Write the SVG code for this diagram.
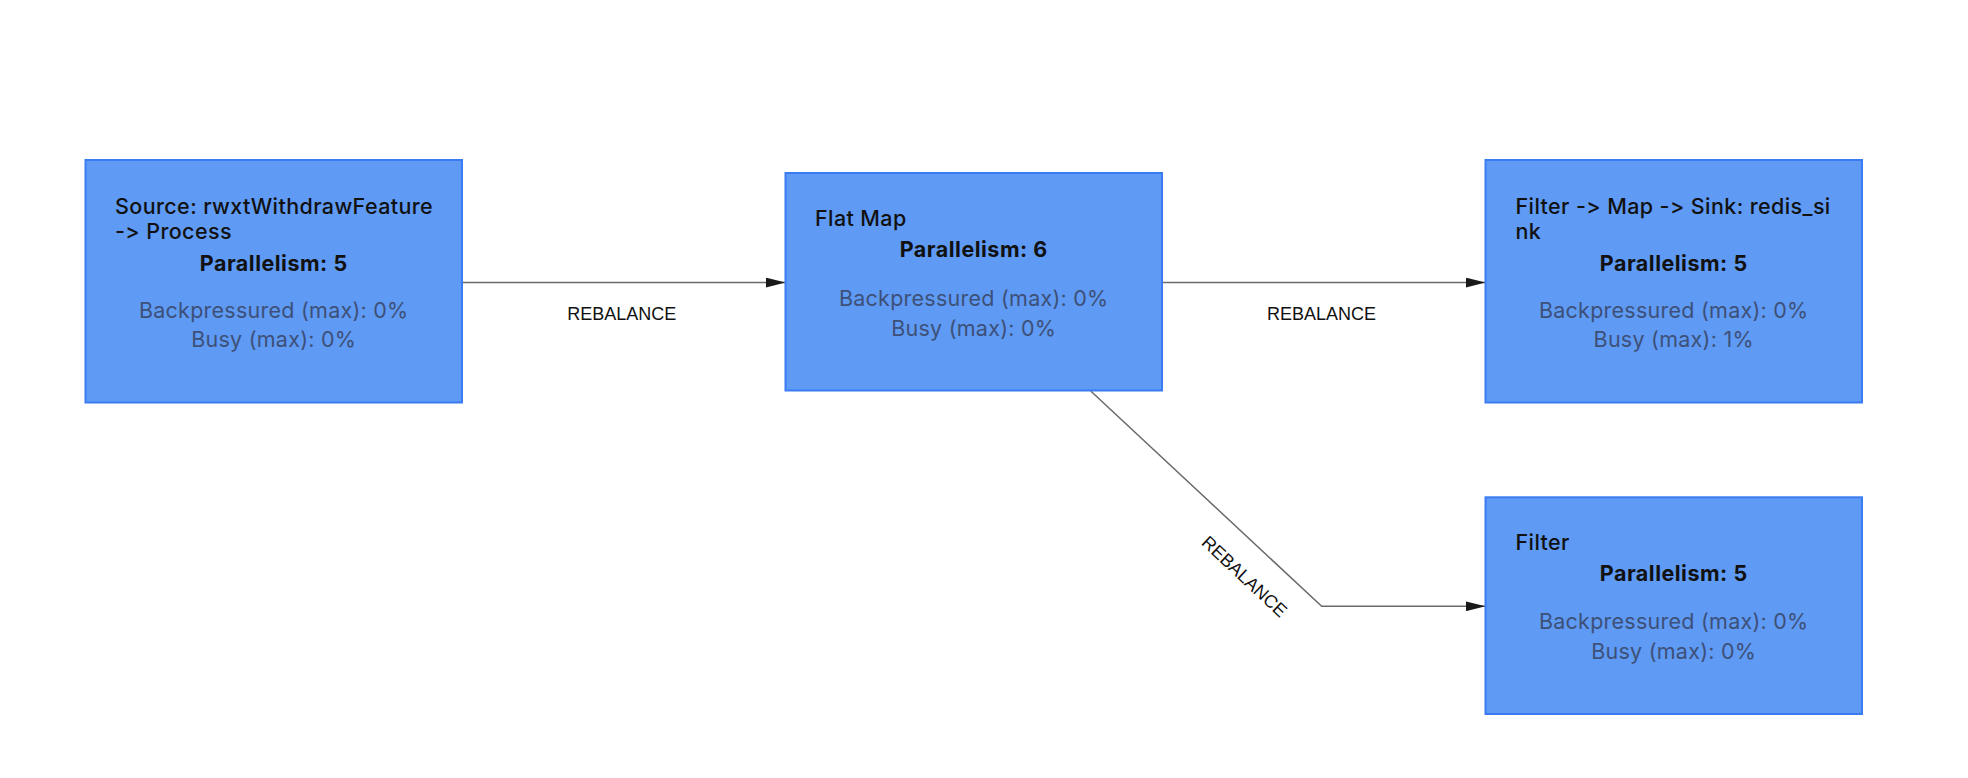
<svg xmlns="http://www.w3.org/2000/svg" width="1968" height="778" viewBox="0 0 1968 778">
<style>
text{font-feature-settings:"calt" 0,"liga" 0;font-variant-ligatures:none}
.box{fill:#5f9af4;stroke:#3b7cf3;stroke-width:2}
.title{font-family:Inter,"Liberation Sans",sans-serif;font-size:21.5px;font-weight:500;letter-spacing:0.4px;fill:#111}
.par{font-family:Inter,"Liberation Sans",sans-serif;font-size:21.5px;font-weight:bold;letter-spacing:0.5px;fill:#111;text-anchor:middle}
.stat{font-family:Inter,"Liberation Sans",sans-serif;font-size:21.5px;letter-spacing:0.25px;fill:#3d5078;text-anchor:middle}
.edge{fill:none;stroke:#6b6b6b;stroke-width:1.5}
.elabel{font-family:"Liberation Sans",Arial,sans-serif;font-size:18px;fill:#111;text-anchor:middle}
</style>
<defs>
<marker id="arrow" markerUnits="userSpaceOnUse" markerWidth="20" markerHeight="10" refX="20" refY="5" orient="auto">
<path d="M0,0 L20,5 L0,10 z" fill="#1a1a1a"/>
</marker>
</defs>
<rect width="1968" height="778" fill="#ffffff"/>
<g id="connectors">
<path class="edge" d="M462,282.5 L785.5,282.5" marker-end="url(#arrow)"/>
<path class="edge" d="M1162,282.5 L1485.5,282.5" marker-end="url(#arrow)"/>
<path class="edge" d="M1090.7,391 L1321.7,606.3 L1485.5,606.3" marker-end="url(#arrow)"/>
<text class="elabel" x="621.8" y="320">REBALANCE</text>
<text class="elabel" x="1321.6" y="320">REBALANCE</text>
<text class="elabel" transform="translate(1244.7,576.3) rotate(43)" x="0" y="6.5">REBALANCE</text>
</g>
<g id="node-source">
<rect class="box" x="85.5" y="160" width="376.5" height="242.5"/>
<text class="title" x="115" y="214">Source: rwxtWithdrawFeature</text>
<text class="title" x="115" y="239.3">-&gt; Process</text>
<text class="par" x="273.7" y="270.7">Parallelism: 5</text>
<text class="stat" x="273.7" y="318.3">Backpressured (max): 0%</text>
<text class="stat" x="273.7" y="347.3">Busy (max): 0%</text>
</g>
<g id="node-flatmap">
<rect class="box" x="785.5" y="173" width="376.5" height="217.5"/>
<text class="title" x="815" y="226">Flat Map</text>
<text class="par" x="973.7" y="256.7">Parallelism: 6</text>
<text class="stat" x="973.7" y="305.7">Backpressured (max): 0%</text>
<text class="stat" x="973.7" y="335.5">Busy (max): 0%</text>
</g>
<g id="node-sink">
<rect class="box" x="1485.5" y="160" width="376.5" height="242.5"/>
<text class="title" x="1515.5" y="214">Filter -&gt; Map -&gt; Sink: redis_si</text>
<text class="title" x="1515.5" y="239.3">nk</text>
<text class="par" x="1673.7" y="270.7">Parallelism: 5</text>
<text class="stat" x="1673.7" y="318.3">Backpressured (max): 0%</text>
<text class="stat" x="1673.7" y="347.3">Busy (max): 1%</text>
</g>
<g id="node-filter">
<rect class="box" x="1485.5" y="497.3" width="376.5" height="216.7"/>
<text class="title" x="1515.5" y="550">Filter</text>
<text class="par" x="1673.7" y="580.7">Parallelism: 5</text>
<text class="stat" x="1673.7" y="629.3">Backpressured (max): 0%</text>
<text class="stat" x="1673.7" y="659.3">Busy (max): 0%</text>
</g>
</svg>
